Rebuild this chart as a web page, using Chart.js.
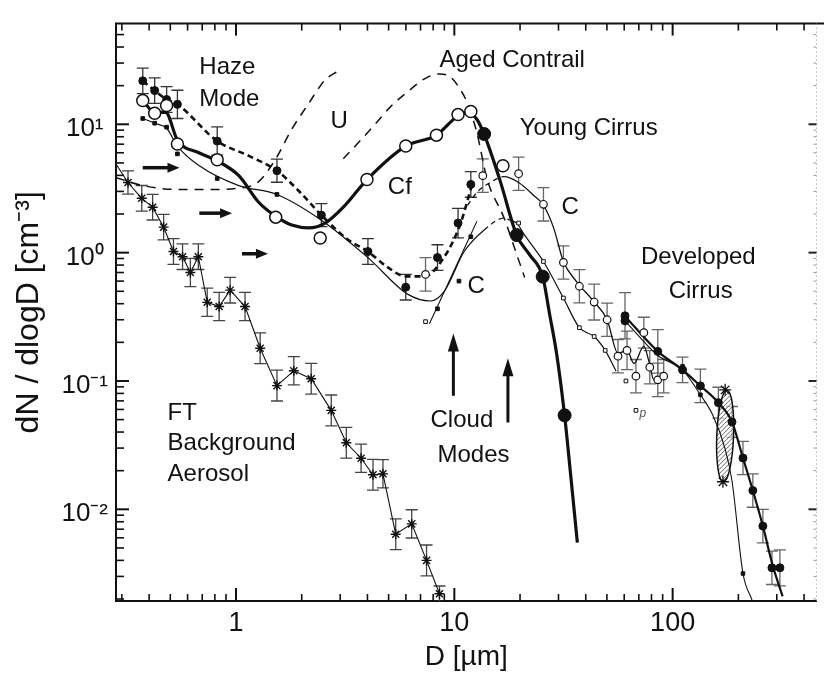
<!DOCTYPE html>
<html><head><meta charset="utf-8">
<script src="https://cdn.jsdelivr.net/npm/chart.js@4.4.1/dist/chart.umd.min.js"></script>
<style>html,body{margin:0;padding:0;background:#fff}canvas{display:block}</style>
</head><body>
<canvas id="c" width="824" height="674" style="width:824px;height:674px"></canvas>
<script>
// ---------- axis ticks ----------
const X_TICKS = [1, 10, 100];
const X_TICK_LABELS = ['1', '10', '100'];
const X_MINOR = [0.3,0.4,0.5,0.6,0.7,0.8,0.9,2,3,4,5,6,7,8,9,20,30,40,50,60,70,80,90,200,300,400];
const Y_TICKS = [0.01, 0.1, 1, 10];
const Y_TICK_LABELS = ['10\u207B\u00B2', '10\u207B\u00B9', '10\u2070', '10\u00B9'];
const Y_MINOR = [0.002,0.003,0.004,0.005,0.006,0.007,0.008,0.009,0.02,0.03,0.04,0.05,0.06,0.07,0.08,0.09,
                 0.2,0.3,0.4,0.5,0.6,0.7,0.8,0.9,2,3,4,5,6,7,8,9,20,30,40,50];

// ---------- FT background aerosol ----------
const ftD = [0.32,0.37,0.415,0.466,0.517,0.569,0.618,0.672,0.738,0.837,0.94,1.10,1.29,1.54,1.84,2.21,2.73,3.2,3.74,4.24,4.71,5.39,6.38,7.46,8.55];
const ftN = [3.52,2.65,2.26,1.58,1.02,0.93,0.70,0.93,0.41,0.38,0.51,0.38,0.18,0.092,0.12,0.104,0.059,0.033,0.025,0.0186,0.0189,0.0064,0.0077,0.0040,0.0022];
const ftErr = [0.09,0.1,0.1,0.1,0.1,0.1,0.11,0.1,0.11,0.11,0.1,0.11,0.12,0.12,0.11,0.12,0.12,0.12,0.11,0.12,0.11,0.12,0.11,0.12,0.06];
const ftStartD = [0.282];
const ftStartN = [4.9];

// ---------- contrail (Cf) thick solid curve ----------
const cfCurveD = [0.374,0.424,0.476,0.539,0.679,0.82,1.03,1.27,1.54,1.80,2.15,2.56,3.16,3.98,5.99,8.28,10.3,11.5,12.7,13.8,16.2,19.3,22.1,25.4,27.3,29.4,32.0,34.0,36.6];
const cfCurveN = [15.3,12.4,12.4,7.53,5.98,5.19,3.98,2.47,1.89,1.64,1.56,1.70,2.34,3.71,6.77,8.23,11.5,12.4,10.9,8.09,3.64,1.37,0.965,0.65,0.333,0.164,0.054,0.0196,0.0055];
const cfOpenD = [0.374,0.424,0.481,0.539,0.82,1.52,2.43,3.98,5.99,8.28,10.4,11.9,16.7];
const cfOpenN = [15.3,12.2,14.0,7.02,5.3,1.89,1.30,3.71,6.77,8.23,11.9,12.6,4.75];
const cfBigD = [13.7,19.3,25.4,32.0];
const cfBigN = [8.4,1.37,0.65,0.054];

// ---------- haze mode (thick dashed, filled circles) ----------
const hzD = [0.374,0.424,0.481,0.539,0.82,1.54,2.46,4.02,5.99,8.37,10.4,11.9];
const hzN = [21.8,18.3,15.6,14.3,7.40,4.35,1.96,1.02,0.538,0.915,1.70,3.40];
const hzErr = [0.1,0.1,0.1,0.11,0.11,0.09,0.09,0.1,0.1,0.1,0.115,0.1];
const hzCurveD = [0.374,0.424,0.481,0.539,0.82,1.146,1.54,1.93,2.46,3.26,4.02,4.96,5.99,7.30,8.37,10.5,12.1];
const hzCurveN = [21.8,18.3,15.6,14.3,7.40,5.67,4.35,3.05,1.96,1.26,1.02,0.767,0.653,0.653,0.78,1.56,3.45];

// ---------- young cirrus, upper C curve (open circles) ----------
const cUpD = [11.5,12.7,14.6,16.9,19.7,23.1,25.6,28.5,31.6,36.2,43.3,50.1,56.2,61.8,66.5,73.8,77.8,82.0,91.0];
const cUpN = [2.34,2.95,3.52,3.91,3.52,2.79,2.34,1.56,0.853,0.598,0.42,0.30,0.164,0.173,0.137,0.186,0.143,0.102,0.109];
const cOpenD = [7.38,13.5,19.7,25.6,31.6,37.4,43.7,50.1,56.2,61.8,67.9,73.8,78.6,85.5,91.0];
const cOpenN = [0.677,3.98,4.12,2.38,0.838,0.547,0.412,0.30,0.156,0.173,0.109,0.238,0.128,0.102,0.109];
const cOpenErr = [0.13,0.13,0.13,0.13,0.13,0.13,0.14,0.13,0.13,0.15,0.13,0.12,0.13,0.13,0.13];

// ---------- lower thin curve (small squares) ----------
const lowD = [0.374,0.424,0.481,0.539,0.679,1.03,1.54,2.46,4.02,6.11,7.78,9.01,11.1,13.7,16.9,18.0,19.3,21.0,25.6,31.6,37.4,43.7,49.1,55.1];
const lowN = [11.1,10.2,9.31,6.77,4.75,3.33,2.84,1.79,0.915,0.475,0.42,0.501,1.02,1.50,1.86,1.79,1.70,1.37,0.853,0.443,0.26,0.222,0.173,0.119];
const lowSqD = [0.374,0.424,0.481,0.539,0.82,1.54,8.37,10.5,11.9];
const lowSqN = [11.1,10.2,9.5,5.88,3.78,2.84,0.365,0.60,1.33];
const lowOpD = [7.38,19.7,25.6,31.6,37.4,43.7,49.1,61.1,67.9];
const lowOpN = [0.29,1.70,0.853,0.443,0.26,0.222,0.173,0.10,0.059];
const steepD = [7.69,12.7];
const steepN = [0.279,1.76];

// ---------- U (dashed) and aged contrail (dashed) ----------
const uD = [0.282,0.374,0.551,0.754,1.0,1.27,1.52,1.80,2.15,2.56,2.94];
const uN = [3.84,3.33,3.10,3.10,3.16,3.58,5.38,9.15,14.5,22.2,26.0];
const agedD = [3.10,3.62,4.33,5.12,6.11,7.30,8.55,9.59,10.6,11.5,12.7,14.1,16.9,19.3,21.0];
const agedN = [5.38,7.14,10.0,13.8,17.9,22.6,24.7,23.4,18.9,14.5,8.53,3.78,1.86,0.97,0.64];

// ---------- developed cirrus ----------
const devD = [60.5,60.5,85.5,111,134,162,187,210,233,259,285,310];
const devN = [0.322,0.294,0.17,0.122,0.0916,0.0678,0.048,0.0251,0.014,0.0074,0.0035,0.0035];
const devErr = [0.18,0,0.17,0.1,0.13,0.12,0.12,0.13,0.13,0.13,0.13,0.14];
const devCurveD = [60.5,85.5,111,134,162,187,210,233,259,288,319];
const devCurveN = [0.32,0.17,0.122,0.0916,0.0678,0.048,0.0251,0.014,0.0074,0.0036,0.0021];
const devLowD = [60.5,85.5,111,134,153,174,187,210,231];
const devLowN = [0.294,0.158,0.122,0.078,0.0538,0.0295,0.0167,0.00316,0.00196];
const devLowSqD = [111,134,210];
const devLowSqN = [0.13,0.078,0.00316];
const ellD = [160,174,191];
const ellN = [0.0164,0.0371,0.0853];
const ellMarkD = [174,170];
const ellMarkN = [0.0853,0.0164];

// ---------- annotations ----------
const hArrowsD = [[0.374,0.551],[0.679,0.959],[1.065,1.40]];
const hArrowsN = [4.59,2.03,0.98];
const vArrowsD = [9.9,17.6];
const vArrowsN = [[0.0767,0.234],[0.0475,0.150]];
const labelTexts = ['Haze','Mode','U','Aged Contrail','Cf','Young Cirrus','C','C','Developed','Cirrus','FT','Background','Aerosol','Cloud','Modes'];
const labelD = [0.679,0.679,2.97,8.55,4.96,19.95,31.0,11.5,71.6,95.9,0.486,0.486,0.486,7.78,8.37];
const labelN = [27.9,15.6,10.5,31.6,3.22,9.31,2.26,0.547,0.915,0.501,0.0557,0.0328,0.0186,0.0492,0.0265];

const FONT = '"Liberation Sans", Arial, Helvetica, sans-serif';
const pts = (d, n) => d.map((x, i) => ({x: x, y: n[i]}));

function lineDs(d, n, width, dash, extra) {
  return Object.assign({data: pts(d, n), borderColor: '#111', borderWidth: width, borderDash: dash || [],
    pointRadius: 0, fill: false, showLine: true, tension: 0, cubicInterpolationMode: 'monotone'}, extra || {});
}
function markDs(d, n, style, radius, fillColor, bw) {
  return {data: pts(d, n), showLine: false, pointStyle: style, pointRadius: radius, pointBorderWidth: bw,
    pointBackgroundColor: fillColor, pointBorderColor: '#111', borderColor: '#111', backgroundColor: fillColor};
}

const datasets = [
  markDs(cfBigD, cfBigN, 'circle', 6.5, '#111', 1),
  markDs(cfOpenD, cfOpenN, 'circle', 6, '#fff', 1.5),
  markDs(hzD, hzN, 'circle', 4, '#111', 1),
  markDs(cOpenD, cOpenN, 'circle', 3.8, '#fff', 1.2),
  markDs(lowSqD, lowSqN, 'rect', 2.6, '#111', 1),
  markDs(lowOpD, lowOpN, 'rect', 2.6, '#fff', 1),
  markDs(devD, devN, 'circle', 4, '#111', 1),
  markDs(devLowSqD, devLowSqN, 'rect', 2.5, '#111', 1),
  markDs(ellMarkD, ellMarkN, 'star', 6, '#111', 1.3),
  markDs(ftD, ftN, 'star', 5, '#111', 1.4),
  lineDs(cfCurveD, cfCurveN, 3.2),
  lineDs(hzCurveD, hzCurveN, 2.6, [6, 4]),
  lineDs(cUpD, cUpN, 1.3, [], {segment: {borderDash: c => c.p0DataIndex < 3 ? [5, 4] : undefined}}),
  lineDs(lowD, lowN, 1.2, [], {segment: {borderDash: c => (c.p0DataIndex === 13 || c.p0DataIndex === 14) ? [5, 4] : undefined}}),
  lineDs(steepD, steepN, 1.1),
  lineDs(uD, uN, 1.5, [9, 7]),
  lineDs(agedD, agedN, 1.5, [9, 7]),
  lineDs(devCurveD, devCurveN, 2.2),
  lineDs(devLowD, devLowN, 1.1),
  lineDs(ftStartD.concat(ftD), ftStartN.concat(ftN), 1.1, [], {cubicInterpolationMode: 'default'})
];

function seg(ctx, x1, y1, x2, y2) { ctx.beginPath(); ctx.moveTo(x1, y1); ctx.lineTo(x2, y2); ctx.stroke(); }
function errBars(ctx, xs, ys, d, n, e, color) {
  ctx.save(); ctx.strokeStyle = color; ctx.lineWidth = 1.3;
  d.forEach((v, i) => {
    if (!e[i]) return;
    const px = xs.getPixelForValue(v);
    const lo = ys.getPixelForValue(n[i] * Math.pow(10, -e[i]));
    const hi = ys.getPixelForValue(n[i] * Math.pow(10, e[i]));
    ctx.beginPath();
    ctx.moveTo(px, lo); ctx.lineTo(px, hi);
    ctx.moveTo(px - 6, lo); ctx.lineTo(px + 6, lo);
    ctx.moveTo(px - 6, hi); ctx.lineTo(px + 6, hi);
    ctx.stroke();
  });
  ctx.restore();
}
function arrow(ctx, x1, y1, x2, y2, w, hl, hw) {
  const a = Math.atan2(y2 - y1, x2 - x1), c = Math.cos(a), s = Math.sin(a);
  ctx.lineWidth = w;
  seg(ctx, x1, y1, x2 - hl * c * 0.8, y2 - hl * s * 0.8);
  ctx.beginPath();
  ctx.moveTo(x2, y2);
  ctx.lineTo(x2 - hl * c - hw * s, y2 - hl * s + hw * c);
  ctx.lineTo(x2 - hl * c + hw * s, y2 - hl * s - hw * c);
  ctx.closePath(); ctx.fill();
}

const decor = {
  id: 'decor',
  beforeDatasetsDraw(chart) {
    const ctx = chart.ctx, xs = chart.scales.x, ys = chart.scales.y, a = chart.chartArea;
    ctx.save();
    ctx.beginPath(); ctx.rect(a.left, a.top, a.right - a.left, a.bottom - a.top); ctx.clip();
    errBars(ctx, xs, ys, ftD, ftN, ftErr, '#444');
    errBars(ctx, xs, ys, hzD, hzN, hzErr, '#333');
    errBars(ctx, xs, ys, cOpenD, cOpenN, cOpenErr, '#666');
    errBars(ctx, xs, ys, devD, devN, devErr, '#666');
    // hatched ellipse
    const cx = xs.getPixelForValue(ellD[1]), cy = ys.getPixelForValue(ellN[1]);
    const rx = (xs.getPixelForValue(ellD[2]) - xs.getPixelForValue(ellD[0])) / 2;
    const ry = (ys.getPixelForValue(ellN[0]) - ys.getPixelForValue(ellN[2])) / 2;
    const ellPath = () => { ctx.beginPath(); ctx.ellipse(cx, cy, rx, ry, 0.04, 0, 2 * Math.PI); };
    ctx.save();
    ellPath(); ctx.fillStyle = 'rgba(255,255,255,0.6)'; ctx.fill();
    ctx.save(); ellPath(); ctx.clip();
    ctx.strokeStyle = '#555'; ctx.lineWidth = 0.9;
    for (let t = -ry - 2 * rx; t < ry + 2 * rx; t += 4.5) seg(ctx, cx - rx - 2, cy + t + rx + 2, cx + rx + 2, cy + t - rx - 2);
    ctx.restore();
    ellPath(); ctx.strokeStyle = '#111'; ctx.lineWidth = 1.5; ctx.stroke();
    ctx.restore();
    ctx.restore();
  },
  afterDatasetsDraw(chart) {
    const ctx = chart.ctx, xs = chart.scales.x, ys = chart.scales.y;
    ctx.save(); ctx.fillStyle = '#111'; ctx.strokeStyle = '#111';
    hArrowsD.forEach((p, i) => {
      const y = ys.getPixelForValue(hArrowsN[i]);
      arrow(ctx, xs.getPixelForValue(p[0]), y, xs.getPixelForValue(p[1]), y, 3.5, 12, 5);
    });
    vArrowsD.forEach((v, i) => {
      const x = xs.getPixelForValue(v);
      arrow(ctx, x, ys.getPixelForValue(vArrowsN[i][0]), x, ys.getPixelForValue(vArrowsN[i][1]), 3, 18, 5.5);
    });
    ctx.font = '24px ' + FONT; ctx.textBaseline = 'middle';
    labelTexts.forEach((t, i) => {
      ctx.textAlign = (t === 'U') ? 'center' : 'left';
      ctx.fillText(t, xs.getPixelForValue(labelD[i]), ys.getPixelForValue(labelN[i]));
    });
    ctx.font = 'italic 12px ' + FONT; ctx.textAlign = 'left'; ctx.fillStyle = '#555';
    ctx.fillText('p', xs.getPixelForValue(70.5), ys.getPixelForValue(0.056));
    ctx.restore();
  },
  afterDraw(chart) {
    const ctx = chart.ctx, xs = chart.scales.x, ys = chart.scales.y, a = chart.chartArea;
    ctx.save(); ctx.strokeStyle = '#111';
    ctx.lineWidth = 2;
    seg(ctx, a.left - 1, a.top, chart.width, a.top);
    X_TICKS.forEach(v => { const p = xs.getPixelForValue(v); seg(ctx, p, a.bottom, p, a.bottom - 13); seg(ctx, p, a.top, p, a.top + 12); });
    Y_TICKS.forEach(v => { const p = ys.getPixelForValue(v); seg(ctx, a.left, p, a.left + 13, p); });
    ctx.lineWidth = 1.6;
    X_MINOR.forEach(v => { const p = xs.getPixelForValue(v); if (p > a.right) return; seg(ctx, p, a.bottom, p, a.bottom - 7); seg(ctx, p, a.top, p, a.top + 7); });
    Y_MINOR.forEach(v => { const p = ys.getPixelForValue(v); seg(ctx, a.left, p, a.left + 8, p); });
    // faint right frame
    ctx.strokeStyle = '#999'; ctx.lineWidth = 1; ctx.setLineDash([1, 3]);
    seg(ctx, a.right, a.top, a.right, a.bottom);
    ctx.setLineDash([]);
    Y_MINOR.forEach(v => { const p = ys.getPixelForValue(v); seg(ctx, a.right, p, a.right - 3, p); });
    ctx.strokeStyle = '#222'; ctx.lineWidth = 2;
    Y_TICKS.forEach(v => { const p = ys.getPixelForValue(v); seg(ctx, a.right, p, a.right - 8, p); });
    ctx.restore();
  }
};

new Chart(document.getElementById('c'), {
  type: 'line',
  data: {datasets: datasets},
  plugins: [decor],
  options: {
    responsive: false, animation: false, devicePixelRatio: 1,
    layout: {padding: {top: 16, right: 2, left: 0, bottom: 0}},
    plugins: {legend: {display: false}, tooltip: {enabled: false}},
    scales: {
      x: {
        type: 'logarithmic', position: 'bottom', min: 0.282, max: 456,
        afterBuildTicks: s => { s.ticks = X_TICKS.map(v => ({value: v})); },
        afterFit: s => { s.height = 73; },
        ticks: {autoSkip: false, maxRotation: 0, padding: 6, color: '#111', font: {size: 27, family: FONT},
                callback: (v, i) => X_TICK_LABELS[i]},
        grid: {display: false, drawTicks: false},
        border: {display: true, width: 2, color: '#111'},
        title: {display: true, text: 'D [\u00B5m]', color: '#111', font: {size: 28, family: FONT}, padding: {top: 0, bottom: 0}}
      },
      y: {
        type: 'logarithmic', position: 'left', min: 0.00193, max: 60.9,
        afterBuildTicks: s => { s.ticks = Y_TICKS.map(v => ({value: v})); },
        afterFit: s => { s.width = 116; },
        ticks: {autoSkip: false, padding: 8, labelOffset: 5, crossAlign: 'center', color: '#111', font: {size: 26, family: FONT},
                callback: (v, i) => Y_TICK_LABELS[i]},
        grid: {display: false, drawTicks: false},
        border: {display: true, width: 2, color: '#111'},
        title: {display: true, text: 'dN / dlogD [cm\u207B\u00B3]', color: '#111', font: {size: 32, family: FONT}, padding: {top: 10, bottom: 0}}
      }
    }
  }
});
</script>
</body></html>
